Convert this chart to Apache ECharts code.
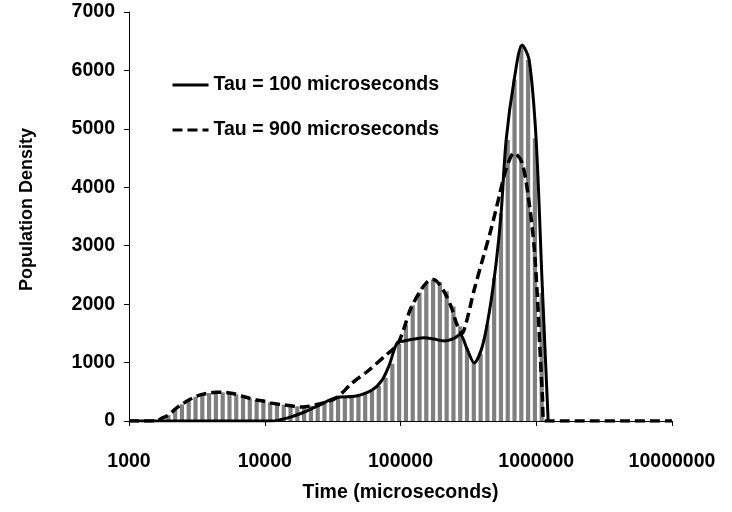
<!DOCTYPE html>
<html>
<head>
<meta charset="utf-8">
<script src="https://cdn.jsdelivr.net/npm/echarts@6/dist/echarts.min.js"></script>
<style>
  html, body { margin: 0; padding: 0; background: #fff; }
  #chart { width: 732px; height: 512px; }
</style>
</head>
<body>
<div id="chart"></div>
<script>
// histogram bins (bin centre in microseconds) and heights
const binTimes = [1738, 1950, 2188, 2455, 2754, 3090, 3467, 3890, 4365, 4898,
  5495, 6166, 6918, 7762, 8710, 9772, 10965, 12303, 13804, 15488,
  17378, 19498, 21878, 24547, 27542, 30903, 34674, 38905, 43652, 48978,
  54954, 61660, 69183, 77625, 87096, 97724, 109648, 123027, 138038, 154882,
  173780, 194984, 218776, 245471, 275423, 309030, 346737, 389045, 436516, 489779,
  549541, 616595, 691831, 776247, 870964, 977237, 1096478]
const binCounts = [45, 100, 205, 285, 360, 416, 456, 479, 490, 490,
  479, 456, 422, 388, 360, 342, 320, 300, 280, 262,
  252, 250, 262, 285, 315, 355, 400, 410, 420, 440,
  470, 525, 600, 740, 980, 1320, 1650, 1980, 2200, 2350,
  2420, 2380, 2220, 1960, 1620, 1250, 1020, 1150, 1650, 2450,
  3550, 4810, 5840, 6430, 6180, 4840, 2190]

// Tau = 100 microseconds (solid)
const tau100Times = [1000, 11320, 14600, 18830, 23880, 33520, 47070, 61750, 73170, 82410,
  94390, 106300, 126000, 149300, 176800, 209600, 248300, 274900, 309600, 348700,
  399400, 449800, 506500, 551200, 600200, 687200, 787200, 886700, 998400, 1105000, 1224000]
const tau100Values = [0, 0, 50, 137, 245, 400, 428, 530, 700, 950,
  1335, 1370, 1403, 1426, 1403, 1370, 1415, 1480, 1230, 995,
  1267, 1848, 2704, 3560, 4809, 5836, 6435, 6178, 4809, 2362, 0]

// Tau = 900 microseconds (dashed)
const tau900Times = [1000, 1581, 1738, 1951, 2190, 2458, 2758, 3090, 3467, 3890,
  4365, 4898, 5495, 6166, 6918, 7762, 8710, 9772, 10965, 13880,
  18830, 25130, 33520, 44000, 58700, 78330, 94390, 106300, 117700, 137100,
  154400, 171000, 186100, 209600, 236000, 261300, 284400, 304300, 348700, 401500,
  463000, 532900, 597000, 687200, 787200, 886700, 965000, 1020000, 1063000, 1111000,
  1144000, 10000000]
const tau900Values = [0, 0, 45, 100, 205, 285, 360, 416, 456, 479,
  490, 490, 479, 456, 422, 388, 360, 342, 310, 275,
  240, 290, 394, 650, 873, 1130, 1300, 1590, 1900, 2190,
  2360, 2425, 2385, 2213, 1956, 1643, 1500, 1677, 2242, 2755,
  3269, 3840, 4296, 4587, 4415, 3731, 2978, 2122, 1267, 411,
  0, 0]

const yTicks = [0, 1000, 2000, 3000, 4000, 5000, 6000, 7000]

const font = 'Liberation Sans, Arial, sans-serif'
const zip = (xs, ys) => xs.map((x, i) => [x, ys[i]])

const chart = echarts.init(document.getElementById('chart'))

const option = {
  backgroundColor: '#fff',
  animation: false,
  grid: {
    left: 129,
    right: 60,
    top: 12,
    bottom: 91,
    outerBoundsMode: 'none'
  },
  legend: {
    orient: 'vertical',
    left: 166,
    top: 70,
    itemWidth: 36,
    itemHeight: 20,
    itemGap: 25,
    itemStyle: { opacity: 0 },
    lineStyle: { width: 3 },
    data: ['Tau = 100 microseconds', 'Tau = 900 microseconds'],
    textStyle: {
      color: '#000',
      fontFamily: font,
      fontWeight: 'bold',
      fontSize: 19.5,
      lineHeight: 20
    }
  },
  xAxis: {
    type: 'log',
    logBase: 10,
    min: 1000,
    max: 10000000,
    name: 'Time (microseconds)',
    nameLocation: 'middle',
    nameGap: 62,
    nameTextStyle: {
      color: '#000',
      fontFamily: font,
      fontWeight: 'bold',
      fontSize: 19.5
    },
    axisLine: { lineStyle: { color: '#000', width: 1 } },
    axisTick: { length: 5, lineStyle: { color: '#000' } },
    minorTick: { show: false },
    splitLine: { show: false },
    axisLabel: {
      color: '#000',
      fontFamily: font,
      fontWeight: 'bold',
      fontSize: 19.5,
      margin: 31,
      formatter: (v) => String(Math.round(v))
    }
  },
  yAxis: {
    type: 'value',
    min: yTicks[0],
    max: yTicks[yTicks.length - 1],
    interval: 1000,
    name: 'Population Density',
    nameLocation: 'middle',
    nameGap: 93,
    nameTextStyle: {
      color: '#000',
      fontFamily: font,
      fontWeight: 'bold',
      fontSize: 18,
      padding: [0, 0, 0, 14]
    },
    axisLine: { show: true, lineStyle: { color: '#000', width: 1 } },
    axisTick: { show: true, length: 5, lineStyle: { color: '#000' } },
    splitLine: { show: false },
    axisLabel: {
      color: '#000',
      fontFamily: font,
      fontWeight: 'bold',
      fontSize: 19.5,
      margin: 14,
      formatter: (v) => String(v)
    }
  },
  series: [
    {
      name: 'histogram',
      type: 'custom',
      z: 1,
      encode: { x: 0, y: 1 },
      data: zip(binTimes, binCounts),
      renderItem: (params, api) => {
        const top = api.coord([api.value(0), api.value(1)])
        const base = api.coord([api.value(0), 0])
        const w = 4.2
        return {
          type: 'rect',
          shape: { x: top[0] - w / 2, y: top[1], width: w, height: base[1] - top[1] },
          style: { fill: '#808080' }
        }
      }
    },
    {
      name: 'Tau = 100 microseconds',
      type: 'line',
      z: 3,
      smooth: 0.3,
      symbol: 'none',
      lineStyle: { color: '#000', width: 3 },
      itemStyle: { color: '#000' },
      data: zip(tau100Times, tau100Values)
    },
    {
      name: 'Tau = 900 microseconds',
      type: 'line',
      z: 4,
      smooth: 0.3,
      symbol: 'none',
      lineStyle: { color: '#000', width: 3.5, type: [10, 5] },
      itemStyle: { color: '#000' },
      data: zip(tau900Times, tau900Values)
    }
  ]
}

chart.setOption(option)
</script>
</body>
</html>
